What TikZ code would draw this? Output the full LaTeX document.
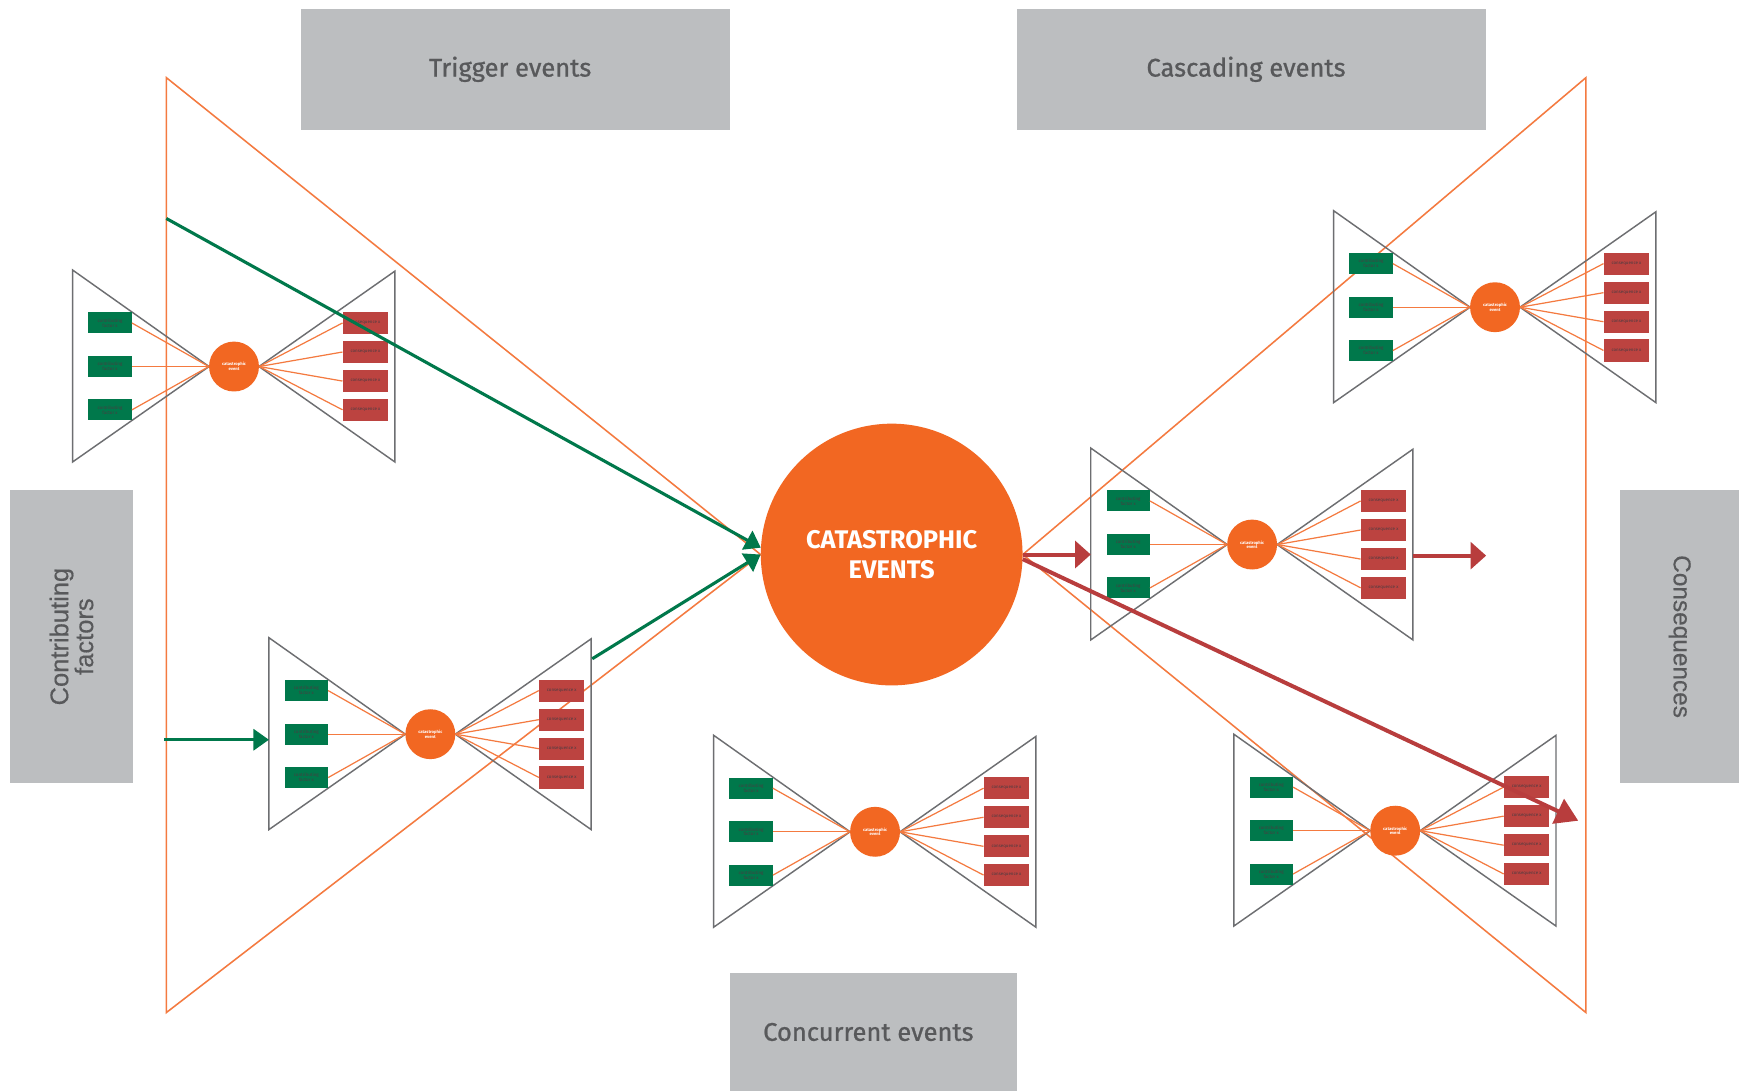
\documentclass[tikz,border=0pt]{standalone}
\usepackage{fontspec}
\setmainfont{Fira Sans}
\newfontfamily\headfont{Fira Sans}[UprightFeatures={FakeBold=0.9}]
\newfontfamily\sidefont{Liberation Sans}[UprightFeatures={FakeBold=0.4}]
\usetikzlibrary{arrows.meta}
\definecolor{cOrange}{HTML}{F26722}
\definecolor{cLine}{HTML}{F47A40}
\definecolor{cGreen}{HTML}{00784B}
\definecolor{cRed}{HTML}{BC4340}
\definecolor{cRedA}{HTML}{B83D3D}
\definecolor{cTri}{HTML}{6D6E71}
\definecolor{cBox}{HTML}{BCBEC0}
\definecolor{cText}{HTML}{58595B}
\definecolor{cTiny}{HTML}{4A3C40}
\tikzset{
  tri/.style={draw=cTri, line width=1.3pt, line join=miter},
  thinor/.style={draw=cLine, line width=1.1pt},
  bigor/.style={draw=cLine, line width=1.4pt, line join=miter},
  cfbox/.style={fill=cGreen, minimum width=39pt, minimum height=19pt, inner sep=0pt, text=cTiny, font=\fontsize{4}{4.4}\selectfont, align=center},
  cqbox/.style={fill=cRed, minimum width=41pt, minimum height=20pt, inner sep=0pt, text=cTiny, font=\fontsize{4}{4.4}\selectfont},
  evc/.style={circle, fill=cOrange, minimum size=45pt, inner sep=0pt, text=white, font=\fontsize{3.8}{4}\selectfont\bfseries, align=center},
  hdbox/.style={fill=cBox, inner sep=0pt, text=cText, font=\headfont\fontsize{23}{27}\selectfont},
  sidebox/.style={fill=cBox, inner sep=0pt, text=cText, align=center},
  garrow/.style={draw=cGreen, line width=2.8pt, -{Triangle[length=14pt,width=19pt]}},
  rarrow/.style={draw=cRedA, line width=3.6pt, -{Triangle[length=14pt,width=24pt]}},
  bowtie/.pic={
    \draw[tri] (-145.5,-87) -- (-145.5,86) -- (-22.5,0) -- cycle;
    \draw[tri] (145,-86) -- (145,86) -- (22.5,0) -- cycle;
    \coordinate (-l) at (-145.5,0);
    \coordinate (-r) at (145,0);
    \node[evc] (-c) at (0,0) {catastrophic\\event};
    \node[cfbox] (-g1) at (-111.8,-39.3) {contributing\\factor x};
    \node[cfbox] (-g2) at (-111.8,0) {contributing\\factor x};
    \node[cfbox] (-g3) at (-111.8,39.1) {contributing\\factor x};
    \node[cqbox] (-q1) at (118.5,-39.3) {consequence x};
    \node[cqbox] (-q2) at (118.5,-13.1) {consequence x};
    \node[cqbox] (-q3) at (118.5,13.1) {consequence x};
    \node[cqbox] (-q4) at (118.5,39) {consequence x};
    \draw[thinor] (-g1.east) -- (-c.west);
    \draw[thinor] (-g2.east) -- (-c.west);
    \draw[thinor] (-g3.east) -- (-c.west);
    \draw[thinor] (-c.east) -- (-q1.west);
    \draw[thinor] (-c.east) -- (-q2.west);
    \draw[thinor] (-c.east) -- (-q3.west);
    \draw[thinor] (-c.east) -- (-q4.west);
  }
}
\begin{document}
\begin{tikzpicture}[x=1pt,y=-1pt]
\useasboundingbox (0,0) rectangle (1568,984);
\fill[white] (0,0) rectangle (1568,984);
% label boxes
\node[hdbox, minimum width=387pt, minimum height=109pt] (trig) at (464.5,62.5) {\hspace*{-9pt}\raisebox{-4pt}{Trigger events}};
\node[hdbox, minimum width=423pt, minimum height=109pt] (casc) at (1128.5,62.5) {\hspace*{-10pt}\raisebox{-4pt}{Cascading events}};
\node[hdbox, minimum width=259pt, minimum height=107pt] (conc) at (787.5,930.5) {\hspace*{-9pt}\raisebox{-2pt}{Concurrent events}};
\node[sidebox, minimum width=264pt, minimum height=111pt, rotate=90, font=\sidefont\fontsize{23}{21}\selectfont] (contrib) at (64.5,574) {Contributing\\factors};
\node[sidebox, minimum width=264pt, minimum height=107pt, rotate=-90, font=\sidefont\fontsize{22}{21}\selectfont] (cons) at (1514.5,574) {Consequences};
% central event
\node[circle, fill=cOrange, minimum size=236pt, inner sep=0pt, text=white, align=center,
      font=\fontsize{23}{27}\selectfont\bfseries] (cat) at (804,500) {\raisebox{-2pt}{CATASTROPHIC}\\\raisebox{-2pt}{EVENTS}};
% big orange bow-tie
\coordinate (lt) at (150,70);
\coordinate (lb) at (150,913);
\coordinate (rt) at (1430,70);
\coordinate (rb) at (1430,913);
\draw[bigor] (lt) -- (lb) -- (cat.west) -- cycle;
\draw[bigor] (rt) -- (rb) -- (cat.east) -- cycle;
% small bow-ties
\pic (bt1) at (211,330.5) {bowtie};
\pic (bt2) at (388,662) {bowtie};
\pic (bt3) at (789,750) {bowtie};
\pic (bt4) at (1129,491) {bowtie};
\pic (bt5) at (1348,277) {bowtie};
\pic (bt6) at (1258,749) {bowtie};
% arrows
\coordinate (ga1s) at (150,197);
\coordinate (ga2s) at (534,594);
\coordinate (ga3s) at (148,667);
\coordinate (ra2e) at (1340,501);
\coordinate (ra3e) at (1423,740);
\draw[garrow] (ga1s) -- (cat.177);
\draw[garrow] (ga2s) -- (cat.180);
\draw[garrow] (ga3s) -- (ga3s -| bt2-l);
\draw[rarrow] (cat.east) -- (cat.east -| bt4-l);
\draw[rarrow] (ra2e -| bt4-r) -- (ra2e);
\draw[rarrow, -{Triangle[length=20pt,width=24pt]}] (cat.-2) -- (ra3e);
\end{tikzpicture}
\end{document}
